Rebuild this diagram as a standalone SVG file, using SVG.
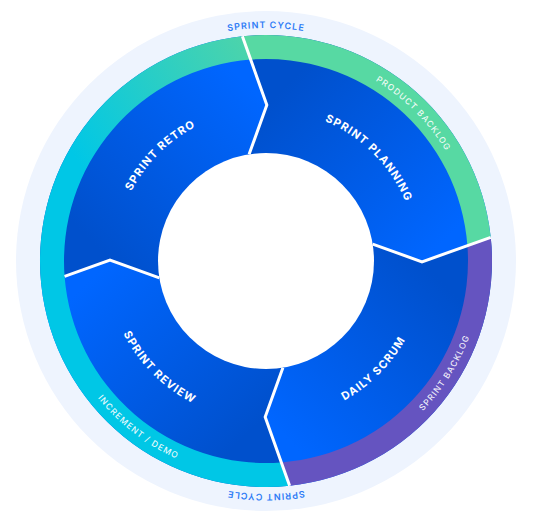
<svg xmlns="http://www.w3.org/2000/svg" width="533" height="523" viewBox="0 0 533 523">
<defs>
<linearGradient id="gPlan" gradientUnits="userSpaceOnUse" x1="267" y1="105" x2="422" y2="262"><stop offset="0" stop-color="#0050CC"/><stop offset="1" stop-color="#0066FF"/></linearGradient>
<linearGradient id="gScrum" gradientUnits="userSpaceOnUse" x1="422" y1="262" x2="265" y2="417"><stop offset="0" stop-color="#0050CC"/><stop offset="1" stop-color="#0066FF"/></linearGradient>
<linearGradient id="gReview" gradientUnits="userSpaceOnUse" x1="265" y1="417" x2="110" y2="260"><stop offset="0" stop-color="#0050CC"/><stop offset="1" stop-color="#0066FF"/></linearGradient>
<linearGradient id="gRetro" gradientUnits="userSpaceOnUse" x1="110" y1="260" x2="267" y2="105"><stop offset="0" stop-color="#0050CC"/><stop offset="1" stop-color="#0066FF"/></linearGradient>
<linearGradient id="gCyan" gradientUnits="userSpaceOnUse" x1="70" y1="150" x2="245" y2="36"><stop offset="0" stop-color="#00C7E6"/><stop offset="1" stop-color="#4DD4AA"/></linearGradient>
<path id="pCycleTop" d="M 33 261 A 233 233 0 0 1 499 261"/>
<path id="pCycleBot" d="M 499 261 A 233 233 0 0 1 33 261"/>
<path id="pProd" d="M 116.8 111.8 A 211 211 0 0 1 415.2 410.2"/>
<path id="pSprB" d="M 151.01 445.03 A 217 217 0 0 0 380.99 76.97"/>
<path id="pInc" d="M 93.84 128.9 A 217 217 0 0 0 438.16 393.1"/>
<path id="pPlan" d="M 158.52 153.52 A 152 152 0 0 1 373.48 368.48"/>
<path id="pRetro" d="M 158.52 368.48 A 152 152 0 0 1 373.48 153.52"/>
<path id="pScrum" d="M 152.86 374.14 A 160 160 0 0 0 379.14 147.86"/>
<path id="pReview" d="M 152.86 147.86 A 160 160 0 0 0 379.14 374.14"/>
<style>
.lbl{font-family:Inter,"Open Sans","Liberation Sans",sans-serif;font-size:11px;font-weight:700;fill:#fff;letter-spacing:1.1px}
.ring{font-family:Inter,"Open Sans","Liberation Sans",sans-serif;font-size:8.5px;font-weight:500;fill:#fff;fill-opacity:0.9;letter-spacing:1.1px}
.cyc{font-family:Inter,"Open Sans","Liberation Sans",sans-serif;font-size:9px;font-weight:600;fill:#2E7CF6;letter-spacing:1px}
.div{fill:none;stroke:#fff;stroke-width:3}
</style>
</defs>
<rect width="533" height="523" fill="#fff"/>
<g id="sprint-cycle">
<circle cx="266" cy="261" r="250" fill="#EEF4FE"/>
<text class="cyc" text-anchor="middle"><textPath href="#pCycleTop" startOffset="50%">SPRINT CYCLE</textPath></text>
<text class="cyc" text-anchor="middle"><textPath href="#pCycleBot" startOffset="50%">SPRINT CYCLE</textPath></text>
</g>
<g id="sprint-planning">
<path d="M 266 261 L 249.11 154.33 L 266.82 105 L 242.38 36.24 A 226 226 0 0 1 490.76 237.38 L 422 261.82 L 372.67 244.11 Z" fill="url(#gPlan)"/>
</g>
<g id="daily-scrum">
<path d="M 266 261 L 372.67 244.11 L 422 261.82 L 490.76 237.38 A 226 226 0 0 1 289.62 485.76 L 265.18 417 L 282.89 367.67 Z" fill="url(#gScrum)"/>
</g>
<g id="sprint-review">
<path d="M 266 261 L 282.89 367.67 L 265.18 417 L 289.62 485.76 A 226 226 0 0 1 41.24 284.62 L 110 260.18 L 159.33 277.89 Z" fill="url(#gReview)"/>
</g>
<g id="sprint-retro">
<path d="M 266 261 L 159.33 277.89 L 110 260.18 L 41.24 284.62 A 226 226 0 0 1 242.38 36.24 L 266.82 105 L 249.11 154.33 Z" fill="url(#gRetro)"/>
</g>
<g id="product-backlog">
<path d="M 242.38 36.24 A 226 226 0 0 1 490.76 237.38 L 467.42 245.71 A 202 202 0 0 0 250.71 59.58 Z" fill="#57D9A3"/>
<text class="ring" text-anchor="middle"><textPath href="#pProd" startOffset="50%">PRODUCT BACKLOG</textPath></text>
</g>
<g id="sprint-backlog">
<path d="M 490.76 237.38 A 226 226 0 0 1 289.62 485.76 L 281.29 462.42 A 202 202 0 0 0 467.42 245.71 Z" fill="#6554C0"/>
<text class="ring" text-anchor="middle"><textPath href="#pSprB" startOffset="50%">SPRINT BACKLOG</textPath></text>
</g>
<g id="increment-demo">
<path d="M 289.62 485.76 A 226 226 0 0 1 41.24 284.62 A 226 226 0 0 1 242.38 36.24 L 250.71 59.58 A 202 202 0 0 0 64.58 276.29 A 202 202 0 0 0 281.29 462.42 Z" fill="url(#gCyan)"/>
<text class="ring" text-anchor="middle"><textPath href="#pInc" startOffset="50%">INCREMENT / DEMO</textPath></text>
</g>
<circle cx="266" cy="261" r="108" fill="#fff"/>
<g id="connectors">
<path class="div" d="M 249.11 154.33 L 266.82 105 L 242.38 36.24"/>
<path class="div" d="M 372.67 244.11 L 422 261.82 L 490.76 237.38"/>
<path class="div" d="M 282.89 367.67 L 265.18 417 L 289.62 485.76"/>
<path class="div" d="M 159.33 277.89 L 110 260.18 L 64.58 276.29"/>
</g>
<g id="labels">
<text class="lbl" text-anchor="middle"><textPath href="#pPlan" startOffset="50%">SPRINT PLANNING</textPath></text>
<text class="lbl" text-anchor="middle"><textPath href="#pScrum" startOffset="50%">DAILY SCRUM</textPath></text>
<text class="lbl" text-anchor="middle"><textPath href="#pReview" startOffset="50%">SPRINT REVIEW</textPath></text>
<text class="lbl" text-anchor="middle"><textPath href="#pRetro" startOffset="50%">SPRINT RETRO</textPath></text>
</g>
</svg>
